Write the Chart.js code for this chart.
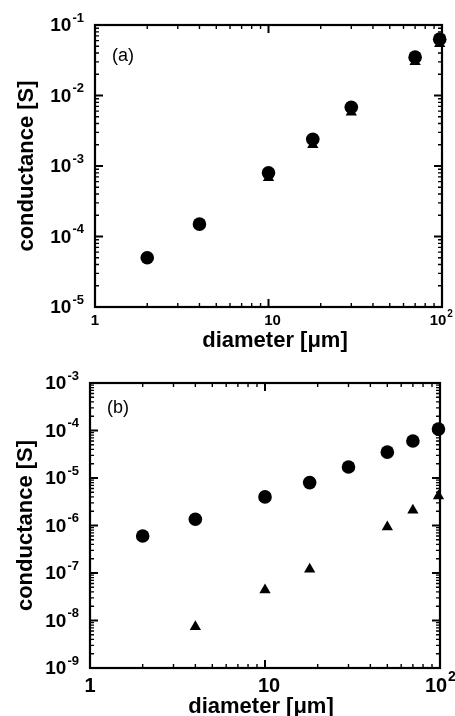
<!DOCTYPE html>
<html>
<head>
<meta charset="utf-8">
<script src="https://cdn.jsdelivr.net/npm/chart.js@4.4.1/dist/chart.umd.min.js"></script>
<style>
  html, body { margin: 0; padding: 0; background: #fff; }
  canvas { display: block; }
</style>
</head>
<body>
<canvas id="chartA" width="455" height="355"></canvas>
<canvas id="chartB" width="455" height="361"></canvas>
<script>
// panel (a)
const diamA_circ = [2, 4, 10, 18, 30, 70, 97];
const condA_circ = [5e-5, 1.5e-4, 8e-4, 2.4e-3, 6.8e-3, 3.5e-2, 6.3e-2];
const diamA_tri = [10, 18, 30, 70, 97];
const condA_tri = [6.8e-4, 2.0e-3, 5.8e-3, 3.0e-2, 5.4e-2];
const yExpA = [-5, -4, -3, -2, -1];

// panel (b)
const diamB_circ = [2, 4, 10, 18, 30, 50, 70, 98];
const condB_circ = [6e-7, 1.35e-6, 4e-6, 8e-6, 1.7e-5, 3.5e-5, 6e-5, 1.07e-4];
const diamB_tri = [4, 10, 18, 50, 70, 98];
const condB_tri = [7.4e-9, 4.4e-8, 1.2e-7, 9.3e-7, 2.1e-6, 4.2e-6];
const yExpB = [-9, -8, -7, -6, -5, -4, -3];

const xTickVals = [1, 10, 100];
const xTickBase = ['1', '10', '10'];
const xTickExp = ['', '', '2'];

const FONT = '"Liberation Sans", Arial, Helvetica, sans-serif';

function toPoints(xs, ys) {
  return xs.map((v, i) => ({ x: v, y: ys[i] }));
}

// "10" with raised exponent
function drawPow(ctx, base, exp, x, y, size, align) {
  ctx.font = 'bold ' + size + 'px ' + FONT;
  const wb = ctx.measureText(base).width;
  const small = Math.round(size * 0.68);
  ctx.font = 'bold ' + small + 'px ' + FONT;
  const we = exp ? ctx.measureText(exp).width + 1 : 0;
  let x0 = x;
  if (align === 'right') x0 = x - wb - we;
  if (align === 'center') x0 = x - wb / 2;
  ctx.textAlign = 'left';
  ctx.textBaseline = 'middle';
  ctx.font = 'bold ' + size + 'px ' + FONT;
  ctx.fillText(base, x0, y);
  if (exp) {
    ctx.font = 'bold ' + small + 'px ' + FONT;
    ctx.fillText(exp, x0 + wb + 1, y - size * 0.42);
  }
}

function framePlugin(p) {
  return {
    id: 'frame',
    beforeDatasetsDraw(chart) {
      const { ctx, chartArea: a, scales } = chart;
      const sx = scales.x, sy = scales.y;
      ctx.save();
      ctx.strokeStyle = '#000';
      ctx.fillStyle = '#000';

      // inward log ticks on all four sides
      const ticks = (scale, horiz) => {
        const lo = Math.floor(Math.log10(scale.min));
        const hi = Math.ceil(Math.log10(scale.max));
        for (let e = lo; e <= hi; e++) {
          for (let m = 1; m <= 9; m++) {
            const v = m * Math.pow(10, e);
            if (v < scale.min * 0.999 || v > scale.max * 1.001) continue;
            const q = scale.getPixelForValue(v);
            const len = m === 1 ? 8 : 4;
            ctx.lineWidth = m === 1 ? 2 : 1.4;
            ctx.beginPath();
            if (horiz) {
              ctx.moveTo(q, a.bottom); ctx.lineTo(q, a.bottom - len);
              ctx.moveTo(q, a.top); ctx.lineTo(q, a.top + len);
            } else {
              ctx.moveTo(a.left, q); ctx.lineTo(a.left + len, q);
              ctx.moveTo(a.right, q); ctx.lineTo(a.right - len, q);
            }
            ctx.stroke();
          }
        }
      };
      ticks(sx, true);
      ticks(sy, false);

      ctx.lineWidth = 2.2;
      ctx.strokeRect(a.left, a.top, a.right - a.left, a.bottom - a.top);

      // tick labels
      p.yExp.forEach(e => {
        drawPow(ctx, '10', '-' + Math.abs(e), a.left - 11, sy.getPixelForValue(Math.pow(10, e)) + 1, 19, 'right');
      });
      const shift = [0, 4, -4];
      xTickVals.forEach((v, i) => {
        drawPow(ctx, xTickBase[i], xTickExp[i], sx.getPixelForValue(v) + shift[i], p.xLabelY, p.xLabelSize, 'center');
      });

      // axis titles
      ctx.font = 'bold 22px ' + FONT;
      ctx.textAlign = 'center';
      ctx.textBaseline = 'middle';
      ctx.fillText('diameter [\u03bcm]', p.xTitleX, p.xTitleY);
      ctx.save();
      ctx.translate(p.yTitleX, (a.top + a.bottom) / 2);
      ctx.rotate(-Math.PI / 2);
      ctx.fillText('conductance [S]', 0, 0);
      ctx.restore();

      // panel tag
      ctx.font = '18px ' + FONT;
      ctx.textAlign = 'left';
      ctx.fillText(p.tag, a.left + 17, a.top + p.tagDy);
      ctx.restore();
    }
  };
}

function makeChart(id, circ, tri, yMin, yMax, pad, p) {
  return new Chart(document.getElementById(id), {
    type: 'scatter',
    data: {
      datasets: [
        {
          data: circ, pointStyle: 'circle', pointRadius: 6.8,
          backgroundColor: '#000', borderColor: '#000', borderWidth: 0, clip: false
        },
        {
          data: tri, pointStyle: 'triangle', pointRadius: 6.5,
          backgroundColor: '#000', borderColor: '#000', borderWidth: 0, clip: false
        }
      ]
    },
    options: {
      responsive: false,
      animation: false,
      events: [],
      layout: { padding: pad },
      plugins: { legend: { display: false }, tooltip: { enabled: false } },
      scales: {
        x: { type: 'logarithmic', min: 1, max: 100, display: false },
        y: { type: 'logarithmic', min: yMin, max: yMax, display: false }
      }
    },
    plugins: [framePlugin(p)]
  });
}

makeChart('chartA',
  toPoints(diamA_circ, condA_circ), toPoints(diamA_tri, condA_tri),
  1e-5, 1e-1,
  { left: 95, right: 13, top: 25, bottom: 48 },
  { yExp: yExpA, xLabelY: 321, xLabelSize: 15, xTitleX: 275, xTitleY: 341, yTitleX: 27, tag: '(a)', tagDy: 31 });

makeChart('chartB',
  toPoints(diamB_circ, condB_circ), toPoints(diamB_tri, condB_tri),
  1e-9, 1e-3,
  { left: 90, right: 15, top: 28, bottom: 48 },
  { yExp: yExpB, xLabelY: 331, xLabelSize: 20, xTitleX: 261, xTitleY: 352, yTitleX: 26, tag: '(b)', tagDy: 25 });
</script>
</body>
</html>
